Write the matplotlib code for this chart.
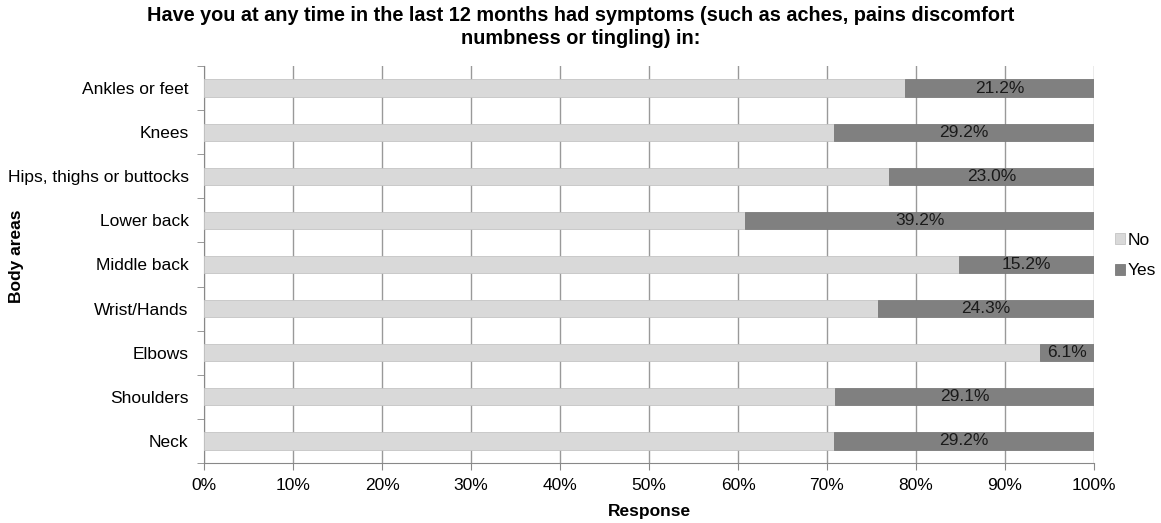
import numpy as np
import matplotlib.pyplot as plt

plt.rcParams['font.family'] = ['Liberation Sans', 'DejaVu Sans']

# body areas, bottom to top
areas = ['Neck', 'Shoulders', 'Elbows', 'Wrist/Hands', 'Middle back',
         'Lower back', 'Hips, thighs or buttocks', 'Knees', 'Ankles or feet']
yes = [29.2, 29.1, 6.1, 24.3, 15.2, 39.2, 23.0, 29.2, 21.2]
no = [100 - v for v in yes]


def createStackedBar():
    '''
    draws the No/Yes stacked horizontal bars and saves out.png
    '''
    fig = plt.figure(figsize=(11.61, 5.23), dpi=100)
    ax = fig.add_axes([204 / 1161, 1 - 463 / 523, 890 / 1161, 397 / 523])

    pos = np.arange(len(areas))
    h = 0.39
    ax.barh(pos, no, height=h, color='#d9d9d9', edgecolor='#c4c4c4',
            linewidth=0.6, label='No', zorder=3)
    ax.barh(pos, yes, left=no, height=h, color='#808080', edgecolor='#7a7a7a',
            linewidth=0.6, label='Yes', zorder=3)

    # value labels on the Yes part
    for i in range(len(areas)):
        ax.text(no[i] + yes[i] / 2, pos[i], f'{yes[i]:.1f}%', ha='center',
                va='center', fontsize=12.5, color='#1a1a1a', zorder=4)

    ax.set_xlim(0, 100)
    ax.set_ylim(-0.5, len(areas) - 0.5)
    ax.set_xticks(np.arange(0, 101, 10))
    ax.set_xticklabels([f'{v}%' for v in range(0, 101, 10)], fontsize=12.5)
    ax.set_yticks(pos)
    ax.set_yticklabels(areas, fontsize=12.5)
    ax.set_yticks(np.arange(-0.5, len(areas), 1), minor=True)
    ax.tick_params(axis='y', which='major', length=0, pad=11)
    ax.tick_params(axis='y', which='minor', length=5, color='#888888')
    ax.tick_params(axis='x', length=5, color='#888888', pad=6)

    ax.grid(axis='x', color='#999999', linewidth=1, zorder=0)
    for s in ['top', 'right']:
        ax.spines[s].set_visible(False)
    ax.spines['left'].set_color('#888888')
    ax.spines['bottom'].set_color('#888888')

    ax.set_xlabel('Response', fontsize=12.5, fontweight='bold', labelpad=8)
    ax.set_ylabel('Body areas', fontsize=12.5, fontweight='bold')
    ax.yaxis.set_label_coords(-0.202, 0.52)
    fig.text(0.5, 1 - 27 / 523,
             'Have you at any time in the last 12 months had symptoms (such as aches, pains discomfort\n'
             'numbness or tingling) in:', ha='center', va='center',
             fontsize=14.3, fontweight='bold', linespacing=1.25)

    ax.legend(loc='center left', bbox_to_anchor=(1.006, 0.523), frameon=False,
              fontsize=12.5, handlelength=0.6, handleheight=0.6,
              handletextpad=0.15, labelspacing=0.9)

    plt.savefig('out.png', dpi=100)


if __name__ == '__main__':
    createStackedBar()
